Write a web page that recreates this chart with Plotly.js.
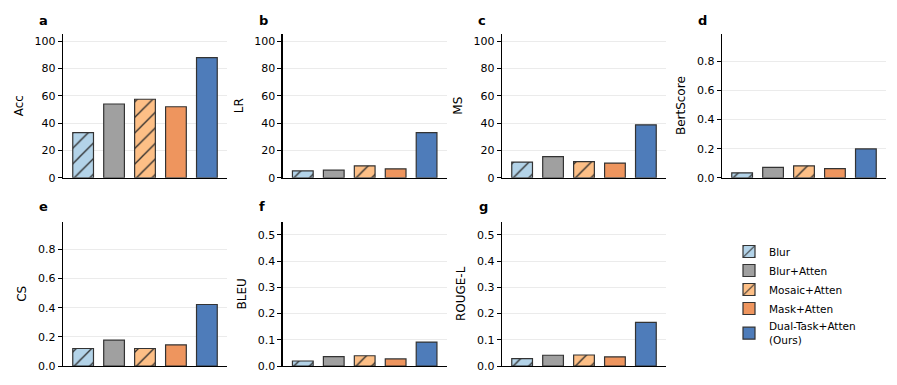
<!DOCTYPE html>
<html>
<head>
<meta charset="utf-8">
<script src="https://cdn.plot.ly/plotly-3.0.1.min.js"></script>
<style>html,body{margin:0;padding:0;background:#fff;}#chart{width:897px;height:385px;}</style>
</head>
<body>
<div id="chart"></div>
<script>
// ---- data ----
const methods = ["Blur", "Blur+Atten", "Mosaic+Atten", "Mask+Atten", "Dual-Task+Atten"];
const legendNames = ["Blur", "Blur+Atten", "Mosaic+Atten", "Mask+Atten", "Dual-Task+Atten<br>(Ours)"];
const panelLetters = ["a", "b", "c", "d", "e", "f", "g"];
const metricNames = ["Acc", "LR", "MS", "BertScore", "CS", "BLEU", "ROUGE-L"];
const acc = [33, 54, 57.5, 52, 88];
const lr = [5, 5.6, 8.8, 6.6, 33];
const ms = [11.5, 15.5, 11.8, 10.8, 38.8];
const bertscore = [0.034, 0.072, 0.082, 0.063, 0.198];
const cs = [0.12, 0.177, 0.12, 0.145, 0.422];
const bleu = [0.019, 0.036, 0.039, 0.027, 0.091];
const rougeL = [0.028, 0.041, 0.042, 0.035, 0.166];

// ---- styles ----
const colors = ["#b3d3e8", "#a0a0a0", "#fdbf86", "#ee955e", "#4e7cba"];
const hatched = [true, false, true, false, false];
const panelData = [acc, lr, ms, bertscore, cs, bleu, rougeL];
const yRanges = [[0, 105.6], [0, 105.6], [0, 105.6], [0, 0.99], [0, 0.99], [0, 0.55], [0, 0.55]];
const yDticks = [20, 20, 20, 0.2, 0.2, 0.1, 0.1];
const yFormats = ["d", "d", "d", ".1f", ".1f", ".1f", ".1f"];

const W = 897, H = 385;
const boxes = [
  [63, 33.5], [282.7, 33.5], [502, 33.5], [722, 33.5],
  [63, 221.7], [282.7, 221.7], [502, 221.7]
];
const boxW = 164, boxH = 144.3;
const labelPos = [[43, 20], [263, 20], [482, 20], [702, 20], [43, 207], [262, 207], [483, 207]];

const font = "DejaVu Sans, Liberation Sans, sans-serif";
const traces = [];
const layout = {
  width: W, height: H,
  margin: {l: 0, r: 0, t: 0, b: 0, autoexpand: false},
  paper_bgcolor: "#fff", plot_bgcolor: "#fff",
  barmode: "overlay",
  font: {family: font, color: "#000", size: 11},
  showlegend: true,
  legend: {
    x: 729 / W, y: 1 - 237 / H, xanchor: "left", yanchor: "top",
    font: {family: font, size: 10.5, color: "#000"},
    bgcolor: "rgba(0,0,0,0)", itemwidth: 30, tracegroupgap: 0
  },
  annotations: []
};

panelData.forEach((vals, p) => {
  const ax = p === 0 ? "" : String(p + 1);
  const [bx, by] = boxes[p];
  layout["xaxis" + ax] = {
    domain: [bx / W, (bx + boxW) / W],
    anchor: "y" + ax,
    type: "category",
    categoryarray: methods,
    range: [-0.65, 4.65],
    showticklabels: false, ticks: "",
    showline: true, linecolor: "#000", linewidth: 1.3,
    showgrid: false, zeroline: false, fixedrange: true
  };
  layout["yaxis" + ax] = {
    domain: [1 - (by + boxH) / H, 1 - by / H],
    anchor: "x" + ax,
    range: yRanges[p],
    dtick: yDticks[p], tick0: 0,
    tickformat: yFormats[p],
    ticks: "outside", ticklen: 4, tickwidth: 1, tickcolor: "#000",
    tickfont: {family: font, size: 11, color: "#000"},
    showline: true, linecolor: "#000", linewidth: 1.3,
    showgrid: true, gridcolor: "#ebebeb", gridwidth: 1,
    zeroline: false, fixedrange: true,
    title: {text: metricNames[p], font: {family: font, size: 12, color: "#000"}, standoff: 8}
  };
  layout.annotations.push({
    text: "<b>" + panelLetters[p] + "</b>",
    x: labelPos[p][0] / W, y: 1 - labelPos[p][1] / H,
    xref: "paper", yref: "paper", xanchor: "center", yanchor: "middle",
    showarrow: false, font: {family: font, size: 13, color: "#000"}
  });
  methods.forEach((m, i) => {
    const marker = {
      color: colors[i],
      line: {color: "#333", width: 1.2}
    };
    if (hatched[i]) {
      marker.pattern = {shape: "/", fgcolor: "#2a2a2a", bgcolor: colors[i], size: 11, solidity: 0.12, fillmode: "replace"};
    }
    traces.push({
      type: "bar",
      x: [m], y: [vals[i]],
      xaxis: "x" + ax, yaxis: "y" + ax,
      width: 0.67,
      name: legendNames[i],
      legendgroup: m,
      showlegend: p === 0,
      marker: marker,
      hoverinfo: "skip"
    });
  });
});

Plotly.newPlot("chart", traces, layout, {staticPlot: true, displayModeBar: false});
</script>
</body>
</html>
